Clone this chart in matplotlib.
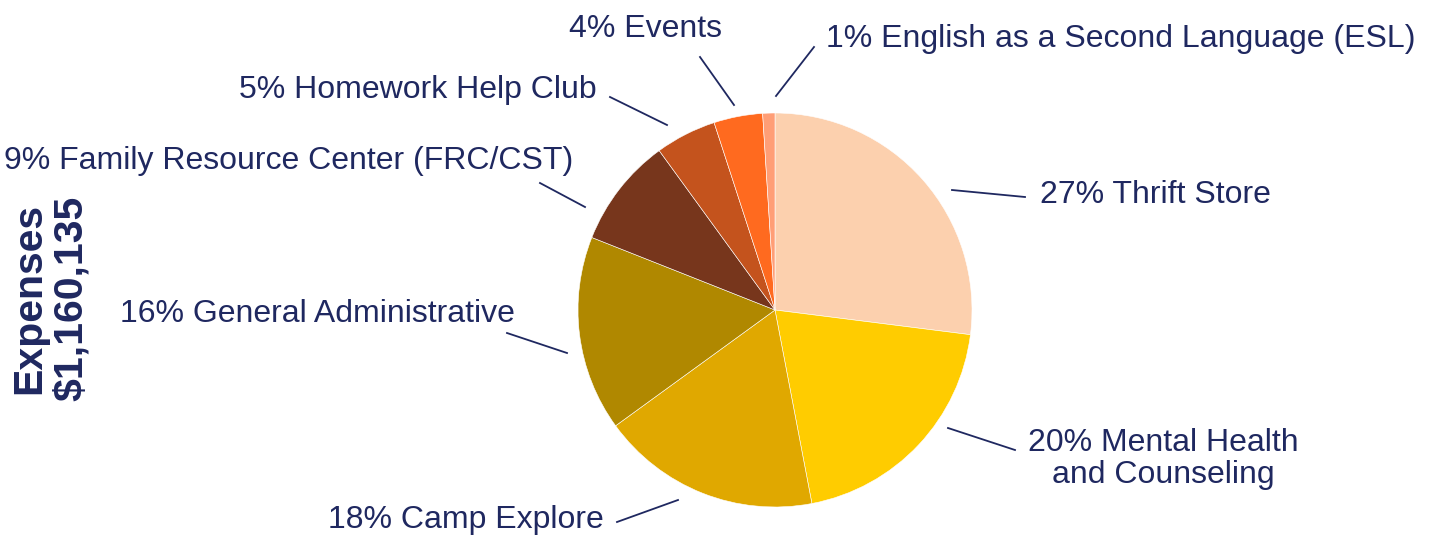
import matplotlib.pyplot as plt

# data
categories = ["Thrift Store", "Mental Health\nand Counseling", "Camp Explore", "General Administrative",
              "Family Resource Center (FRC/CST)", "Homework Help Club", "Events",
              "English as a Second Language (ESL)"]
percents = [27, 20, 18, 16, 9, 5, 4, 1]
colors = ["#FCD0AE", "#FFCC00", "#E0A800", "#B08800", "#77361C", "#C4531D", "#FF6A1F", "#FF9E76"]
total_label = "Expenses\n$1,160,135"

navy = "#1F2860"
plt.rcParams['font.family'] = ['Liberation Sans', 'DejaVu Sans']

fig = plt.figure(figsize=(14.29, 5.35), dpi=100)
# axis in pixel units so the layout can follow the reference image
ax = fig.add_axes([0, 0, 1, 1])

ax.pie(percents, colors=colors, startangle=90, counterclock=False,
       center=(775, 535 - 310), radius=197, frame=True,
       wedgeprops=dict(edgecolor='white', linewidth=0.4))
ax.set_xlim(0, 1429)
ax.set_ylim(0, 535)
ax.axis('off')

# label layout: (text x, text y, ha, leader line x0, y0, x1, y1) in image pixels
layout = [
    (1040, 195, 'left', 952, 190, 1025, 197),
    (1163, 459, 'center', 948, 428, 1015, 450),
    (604, 520, 'right', 617, 522, 678, 500),
    (515, 314, 'right', 507, 333, 567, 353),
    (573, 161, 'right', 540, 183, 585, 207),
    (597, 90, 'right', 610, 97, 667, 125),
    (722, 29, 'right', 700, 57, 734, 105),
    (826, 39, 'left', 814, 47, 776, 96),
]

for cat, pct, (tx, ty, ha, x0, y0, x1, y1) in zip(categories, percents, layout):
    txt = f"{pct}% {cat}"
    ax.text(tx, 535 - ty, txt, ha=ha, va='center', fontsize=23, color=navy,
            linespacing=1.12, multialignment='center')
    ax.plot([x0, x1], [535 - y0, 535 - y1], color=navy, lw=1.3)

ax.text(50, 535 - 298, total_label, rotation=90, ha='center', va='center',
        fontsize=29.5, fontweight='bold', color=navy, linespacing=1.1)

fig.savefig("out.png", dpi=100)
